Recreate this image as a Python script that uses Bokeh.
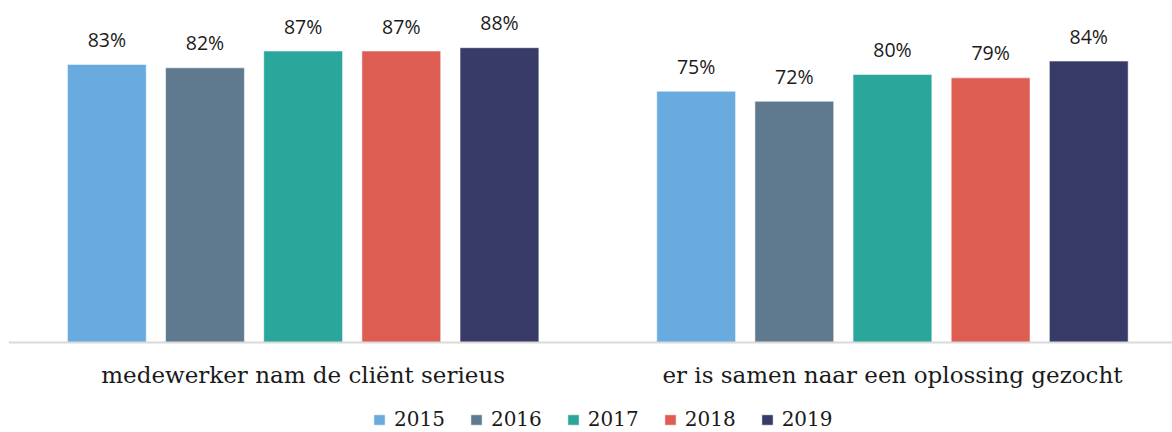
from bokeh.plotting import figure
from bokeh.models import Range1d, ColumnDataSource, Legend, LegendItem, Span
from bokeh.core.properties import value
from bokeh.embed import file_html
from bokeh.resources import INLINE

# ---- data ----
groups = ["medewerker nam de cliënt serieus", "er is samen naar een oplossing gezocht"]
years = ["2015", "2016", "2017", "2018", "2019"]
v2015 = [83, 75]
v2016 = [82, 72]
v2017 = [87, 80]
v2018 = [87, 79]
v2019 = [88, 84]
series = [v2015, v2016, v2017, v2018, v2019]
colors = ["#69ABDF", "#5F7A8E", "#2AA69A", "#DE5D53", "#383A68"]

# ---- layout ----
W, H = 1172, 432
STEP = 0.16655
BAR_W = 0.1337
SANS = "Open Sans"
SERIF = "DejaVu Serif"

p = figure(width=W, height=H, output_backend="svg", toolbar_location=None,
           x_range=Range1d(0, 1.9752), y_range=Range1d(-26.87, 102.09),
           x_axis_location=None, y_axis_location=None,
           min_border_left=8, min_border_right=0, min_border_top=0,
           min_border_bottom=0)
p.outline_line_color = None
p.xgrid.visible = False
p.ygrid.visible = False
p.background_fill_color = "white"
p.border_fill_color = "white"

centers = [i + 0.5 for i in range(len(groups))]

items = []
for j, (yr, vals, col) in enumerate(zip(years, series, colors)):
    off = (j - 2) * STEP
    src = ColumnDataSource(dict(
        x=[c + off for c in centers],
        top=vals,
        lab=[f"{v}%" for v in vals],
    ))
    r = p.vbar(x="x", top="top", bottom=0, width=BAR_W, source=src,
               fill_color=col, line_color="white", line_alpha=0.5, line_width=1)
    p.text(x="x", y="top", text="lab", source=src, text_align="center",
           text_baseline="alphabetic", y_offset=-25,
           text_font=value(SANS), text_font_size="19.5px", text_color="#1a1a1a")
    items.append(LegendItem(label=yr, renderers=[r]))

# baseline (category axis line)
p.add_layout(Span(location=0, dimension="width", line_color="#d9d9d9", line_width=2))

# category labels
csrc = ColumnDataSource(dict(x=centers, y=[0] * len(groups), t=groups))
p.text(x="x", y="y", text="t", source=csrc, text_align="center",
       text_baseline="alphabetic", y_offset=33,
       text_font=value(SERIF), text_font_size="23px", text_color="#1a1a1a")

legend = Legend(items=items, orientation="horizontal", location=(364, 1),
                glyph_width=14, glyph_height=13, label_standoff=8, spacing=24,
                label_height=13, padding=0, margin=0, border_line_color=None,
                background_fill_alpha=0,
                label_text_font=SERIF, label_text_font_size="20px",
                label_text_color="#1a1a1a")
p.add_layout(legend, "center")

open("out.html", "w").write(file_html(p, INLINE))
